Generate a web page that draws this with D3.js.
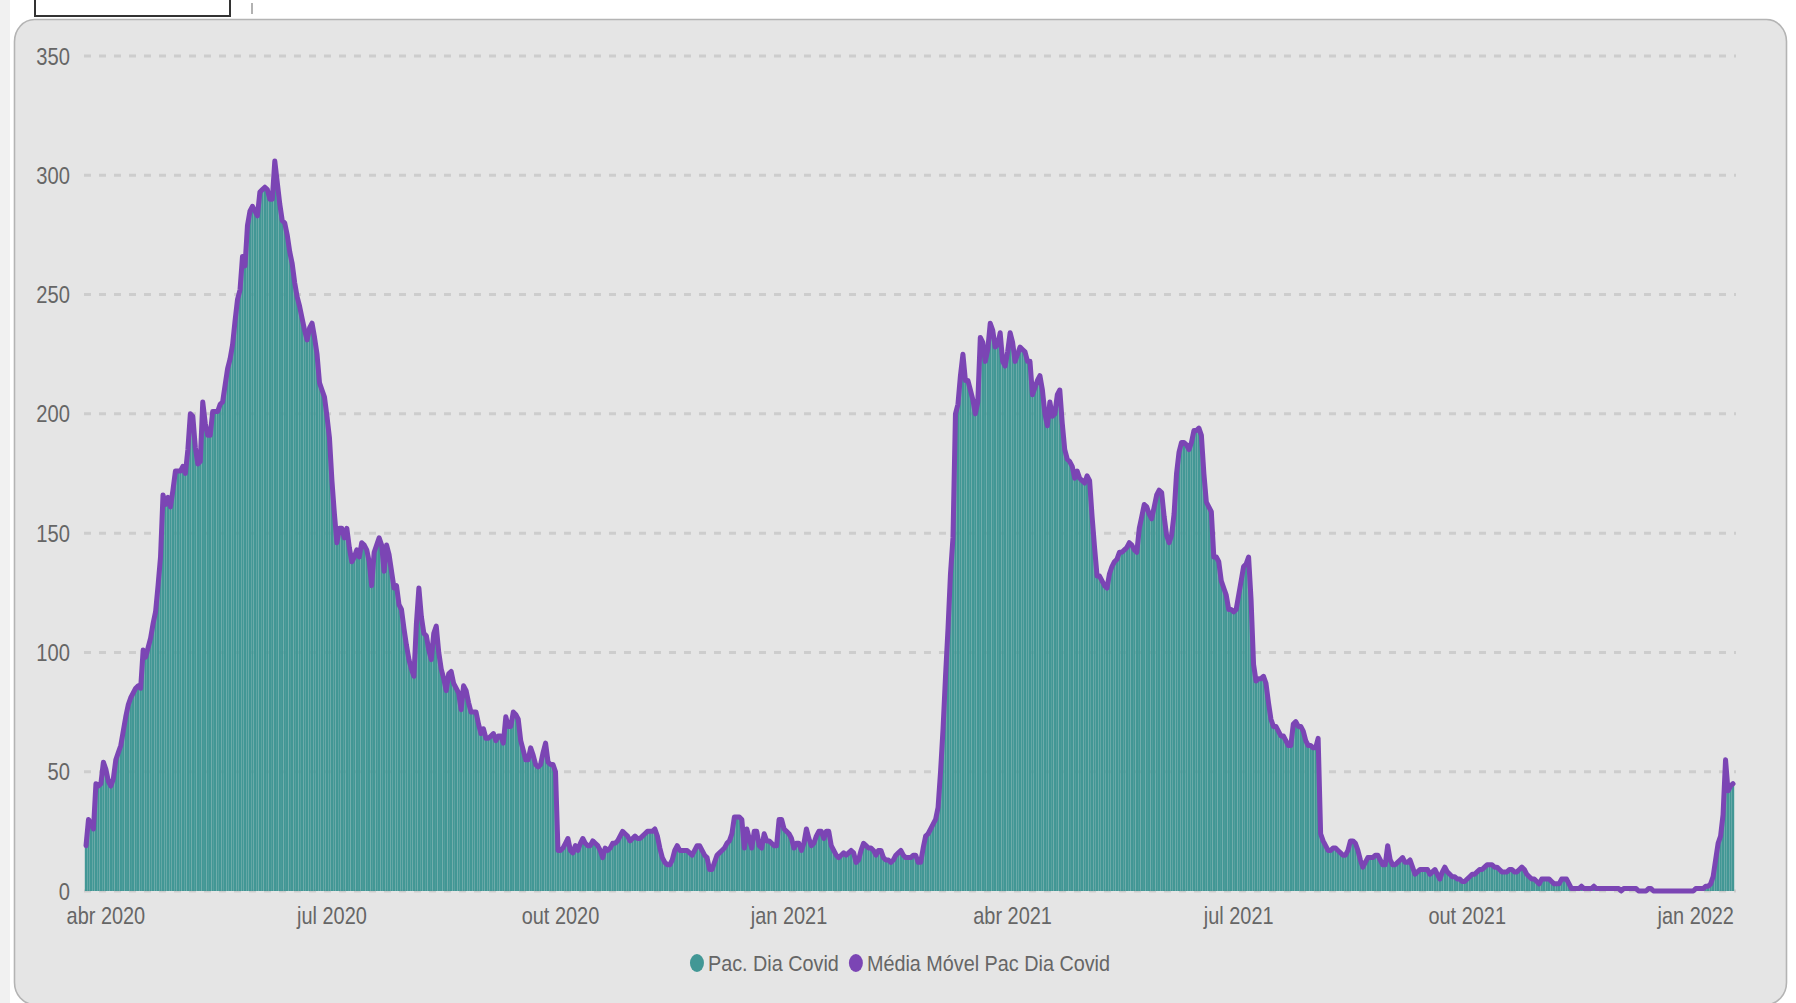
<!DOCTYPE html>
<html><head><meta charset="utf-8">
<script src="https://cdn.jsdelivr.net/npm/d3@7"></script>
<style>html,body{margin:0;padding:0;background:#fff;overflow:hidden}</style>
</head><body><svg id="c" width="1796" height="1003"></svg>
<script>
// ---------- DATA ----------
const startDate = "2020-03-24";   // first day shown (one bar per day)
const pacDiaCovid = [
19,30,28,26,45,44,45,54,51,46,
44,47,55,58,61,67,73,78,81,83,
85,86,85,101,98,102,106,112,117,128,
140,166,162,165,161,168,176,176,176,178,
175,185,200,199,186,179,180,205,196,191,
191,201,201,201,204,205,212,219,223,229,
239,248,252,266,262,279,285,287,285,283,
293,294,295,294,290,290,306,297,288,281,
280,275,268,263,255,249,245,240,235,231,
236,238,232,225,213,210,207,199,190,172,
158,146,152,152,148,152,144,138,140,143,
140,146,145,143,138,128,142,145,148,145,
134,145,141,134,127,128,120,118,110,103,
97,93,90,112,127,115,108,107,101,97,
108,111,100,93,89,84,91,92,87,85,
83,76,86,84,79,75,75,75,70,66,
68,64,64,65,66,63,65,65,62,73,
69,69,75,74,72,63,59,55,55,60,
57,53,52,53,58,62,54,53,53,50,
17,17,18,20,22,17,16,19,17,20,
22,20,19,19,21,20,19,17,14,18,
17,18,20,20,21,23,25,24,23,21,
22,23,22,22,23,24,25,25,25,26,
23,18,14,12,11,11,13,17,19,17,
17,17,17,16,15,17,19,19,17,15,
14,9,9,12,15,16,17,18,20,21,
24,31,31,31,30,18,26,22,18,25,
25,19,18,24,21,21,20,19,19,30,
30,26,25,24,22,18,20,20,17,20,
26,22,19,20,23,25,25,22,25,25,
19,17,15,14,15,16,15,16,17,16,
12,13,17,20,19,18,18,17,15,17,
17,14,13,13,12,13,15,16,17,15,
14,14,14,15,15,12,12,18,23,24,
26,28,30,35,50,68,90,110,133,148,
200,204,216,225,214,214,210,206,200,205,
232,230,222,227,238,235,228,229,234,222,
220,226,234,230,222,225,228,227,226,222,
222,208,211,214,216,210,200,195,205,199,
200,208,210,196,185,181,180,178,173,176,
173,172,171,174,172,157,144,132,132,130,
128,127,133,136,138,139,142,142,143,144,
146,145,143,142,152,157,162,161,158,156,
161,166,168,167,157,149,146,149,158,175,
184,188,188,187,185,188,193,193,194,191,
175,163,161,159,140,140,138,130,127,124,
118,118,117,118,124,130,136,137,140,122,
95,88,89,89,90,87,79,72,69,69,
67,65,65,63,61,61,70,71,69,69,
67,63,61,61,60,60,64,24,21,19,
17,17,18,18,17,16,15,15,17,21,
21,20,17,13,10,12,14,14,14,15,
15,13,11,11,19,13,11,11,12,13,
14,12,12,13,10,7,8,9,9,9,
9,7,8,9,7,5,8,10,8,7,
6,6,5,5,4,4,5,6,7,7,
8,9,9,10,11,11,11,10,10,9,
8,8,8,9,9,8,8,9,10,9,
7,6,5,5,4,3,5,5,5,5,
4,3,3,3,5,5,5,3,1,1,
1,1,2,1,1,1,1,2,1,1,
1,1,1,1,1,1,1,1,0,1,
1,1,1,1,1,0,0,0,0,1,
1,0,0,0,0,0,0,0,0,0,
0,0,0,0,0,0,0,0,1,1,
1,1,2,2,3,6,13,20,23,32,
55,42,44,45
];
// the moving-average line sits on the bar tops in the picture
const mediaMovelPacDiaCovid = pacDiaCovid;

const yTicks = [0, 50, 100, 150, 200, 250, 300, 350];
const xTickDates = ["2020-04-01","2020-07-01","2020-10-01","2021-01-01","2021-04-01","2021-07-01","2021-10-01","2022-01-01"];
const xTickLabels = ["abr 2020","jul 2020","out 2020","jan 2021","abr 2021","jul 2021","out 2021","jan 2022"];
const seriesNames = ["Pac. Dia Covid", "Média Móvel Pac Dia Covid"];

// ---------- STYLE ----------
const COL_BAR = "#429795", COL_LINE = "#7b45b4", COL_TEXT = "#666666";
const FONT = "'Liberation Sans', Arial, sans-serif";

const parse = d3.timeParse("%Y-%m-%d");
const t0 = parse(startDate);
const dates = pacDiaCovid.map((_, i) => d3.timeDay.offset(t0, i));

const svg = d3.select("#c");
svg.append("rect").attr("width", 1796).attr("height", 1003).attr("fill", "#fff");
svg.append("rect").attr("x", 0).attr("y", 0).attr("width", 10).attr("height", 1003).attr("fill", "#f1f1f1");

// top-left box fragment & tick
svg.append("rect").attr("x", 35).attr("y", -12).attr("width", 195).attr("height", 28)
  .attr("fill", "#fff").attr("stroke", "#333").attr("stroke-width", 2);
svg.append("line").attr("x1", 252).attr("x2", 252).attr("y1", 3).attr("y2", 14)
  .attr("stroke", "#999").attr("stroke-width", 1.5);

// panel
svg.append("rect").attr("x", 14.5).attr("y", 19.5).attr("width", 1772).attr("height", 985)
  .attr("rx", 20).attr("ry", 22).attr("fill", "#e5e5e5").attr("stroke", "#b4b4b4").attr("stroke-width", 1.6);

const x = d3.scaleTime().domain([dates[0], dates[dates.length - 1]]).range([86, 1733]);
const y = d3.scaleLinear().domain([0, 350]).range([891, 56]);

// gridlines
svg.append("g").selectAll("line").data(yTicks).join("line")
  .attr("x1", 84).attr("x2", 1736)
  .attr("y1", d => y(d)).attr("y2", d => y(d))
  .attr("stroke", "#cdcdcd").attr("stroke-width", 3).attr("stroke-dasharray", "7,8");

function sText(g, tx, ty, txt, size, anchor, sx) {
  return g.append("text").attr("transform", `translate(${tx},${ty}) scale(${sx},1)`)
    .attr("text-anchor", anchor).attr("font-family", FONT).attr("font-size", size)
    .attr("fill", COL_TEXT).text(txt);
}
// y labels
const gy = svg.append("g");
yTicks.forEach(t => sText(gy, 70, y(t) + 8.5, String(t), 24, "end", 0.84));

// bars
const bw = 2.4;
svg.append("g").selectAll("rect").data(pacDiaCovid).join("rect")
  .attr("x", (d, i) => x(dates[i]) - bw / 2).attr("width", bw)
  .attr("y", d => y(d)).attr("height", d => y(0) - y(d))
  .attr("fill", COL_BAR);

// line
const line = d3.line().x((d, i) => x(dates[i])).y(d => y(d));
svg.append("path").datum(mediaMovelPacDiaCovid).attr("d", line)
  .attr("fill", "none").attr("stroke", COL_LINE).attr("stroke-width", 5)
  .attr("stroke-linejoin", "round").attr("stroke-linecap", "round");

// x labels
const gx = svg.append("g");
xTickDates.forEach((d, i) => sText(gx, x(parse(d)), 924, xTickLabels[i], 24, "middle", 0.83));

// legend
const gl = svg.append("g");
const cols = [COL_BAR, COL_LINE];
let items = seriesNames.map((n, i) => {
  const g = gl.append("g");
  g.append("ellipse").attr("cx", 0).attr("cy", 963).attr("rx", 7).attr("ry", 9).attr("fill", cols[i]);
  const t = sText(g, 11, 971, n, 22.5, "start", 0.88);
  const w = 11 + t.node().getComputedTextLength() * 0.88;
  return {g, w};
});
const gap = 10;
const total = items.reduce((s, it) => s + it.w + 7, 0) + gap * (items.length - 1);
let cx = 900 - total / 2 + 7;
items.forEach(it => { it.g.attr("transform", `translate(${cx},0)`); cx += it.w + 7 + gap; });
</script></body></html>
